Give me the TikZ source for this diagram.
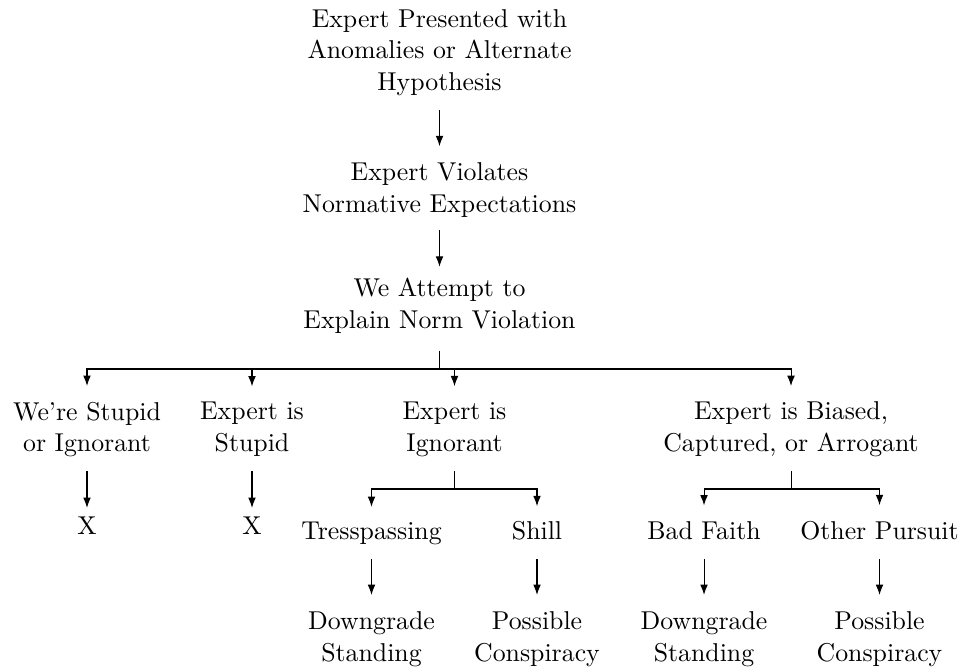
\documentclass[tikz,border=0pt]{standalone}
\usetikzlibrary{arrows.meta}
\begin{document}
\begin{tikzpicture}[x=0.3876pt,y=-0.3876pt,
  box/.style={inner sep=0pt,outer sep=0pt,align=center,font=\fontsize{10}{12.3}\selectfont},
  line/.style={line width=0.4pt},
  arr/.style={line width=0.4pt,-{Latex[length=4pt,width=3pt]}}]
\useasboundingbox (0,0) rectangle (964,668);
% nodes
\node[box] (n1) at (439.5,52.6) {Expert Presented with\\Anomalies or Alternate\\Hypothesis};
\node[box] (n2) at (439.5,190) {Expert Violates\\Normative Expectations};
\node[box] (n3) at (439.5,305.9) {We Attempt to\\Explain Norm Violation};
\node[box] (n4a) at (87,429.5) {We're Stupid\\or Ignorant};
\node[box] (n4b) at (252,429.5) {Expert is\\Stupid};
\node[box] (n4c) at (454.5,429.5) {Expert is\\Ignorant};
\node[box] (n4d) at (791,429.5) {Expert is Biased,\\Captured, or Arrogant};
\node[box] (xa) at (87,525.2) {X};
\node[box] (xb) at (252,525.2) {X};
\node[box] (n5a) at (371.5,533.7) {Tresspassing};
\node[box] (n5b) at (537,531) {Shill};
\node[box] (n5c) at (704,531) {Bad Faith};
\node[box] (n5d) at (879.5,531) {Other Pursuit};
\node[box] (n6a) at (371.5,639.4) {Downgrade\\Standing};
\node[box] (n6b) at (537,639.4) {Possible\\Conspiracy};
\node[box] (n6c) at (704,639.4) {Downgrade\\Standing};
\node[box] (n6d) at (879.5,639.4) {Possible\\Conspiracy};
% junctions
\coordinate (j3) at (439.5,369);
\coordinate (j4c) at (454.5,489);
\coordinate (j4d) at (791,489);
% connectors
\draw[arr,shorten <=5.5pt,shorten >=6.4pt] (n1) -- (n2);
\draw[arr,shorten <=4.9pt,shorten >=4.5pt] (n2) -- (n3);
\draw[line,shorten <=6.6pt] (n3.south) -- (j3);
\foreach \c in {n4a,n4b,n4c,n4d}
  \draw[arr,shorten >=6.2pt] (j3) -| (\c.north);
\draw[arr,shorten <=5.5pt,shorten >=3.3pt] (n4a) -- (xa);
\draw[arr,shorten <=5.5pt,shorten >=3.3pt] (n4b) -- (xb);
\draw[line,shorten <=5.5pt] (n4c.south) -- (j4c);
\draw[line,shorten <=5.5pt] (n4d.south) -- (j4d);
\draw[arr,shorten >=6pt] (j4c) -| (n5a.north);
\draw[arr,shorten >=6pt] (j4c) -| (n5b.north);
\draw[arr,shorten >=6.4pt] (j4d) -| (n5c.north);
\draw[arr,shorten >=6.4pt] (j4d) -| (n5d.north);
\draw[arr,shorten <=5.4pt,shorten >=6.6pt] (n5a) -- (n6a);
\draw[arr,shorten <=7.4pt,shorten >=6.6pt] (n5b) -- (n6b);
\draw[arr,shorten <=7.4pt,shorten >=6.6pt] (n5c) -- (n6c);
\draw[arr,shorten <=7.4pt,shorten >=6.6pt] (n5d) -- (n6d);
\end{tikzpicture}
\end{document}
